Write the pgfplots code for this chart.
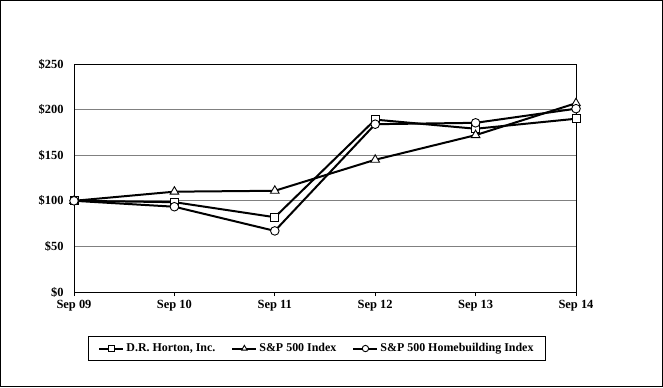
\documentclass[border=0pt]{standalone}
\usepackage{pgfplots}
\pgfplotsset{compat=1.18}
\usepackage{fontspec}
\setmainfont{Liberation Serif}
\begin{document}
\begin{tikzpicture}[x=1bp,y=1bp]
\draw[line width=1bp] (0.5,0.5) rectangle (662.5,386.5);
\begin{axis}[
  at={(74bp,95bp)}, anchor=south west,
  scale only axis, width=502bp, height=228bp,
  xmin=0, xmax=5, ymin=0, ymax=250,
  xtick={0,1,2,3,4,5},
  xticklabels={Sep 09,Sep 10,Sep 11,Sep 12,Sep 13,Sep 14},
  ytick={0,50,100,150,200,250},
  yticklabels={\$0,\$50,\$100,\$150,\$200,\$250},
  ymajorgrids, grid style={gray, line width=1bp},
  axis line style={line width=1bp, black},
  tick style={black, line width=1bp},
  xtick pos=bottom, ytick pos=left,
  major tick length=4bp,
  y tick style={draw=none},
  tick align=outside,
  ticklabel style={font=\bfseries\fontsize{12.5}{14}\selectfont},
  yticklabel style={xshift=-3bp},
  xticklabel style={yshift=-1bp},
  legend columns=3,
  legend style={at={(0.484,-0.248)}, anchor=center, draw=black, line width=1bp,
    font=\bfseries\fontsize{12}{14}\selectfont, inner xsep=10bp, inner ysep=5bp,
    /tikz/every even column/.append style={column sep=14bp}},
  legend image code/.code={
    \draw[line width=2bp] (0bp,0bp) -- (24bp,0bp);
    \draw[#1, mark size=3.2bp, line width=0.8bp, fill=white] plot coordinates {(12bp,0bp)};
  },
]
\addplot[black, line width=2bp, mark=square*, mark size=4bp,
  mark options={fill=white, line width=0.9bp}]
  coordinates {(0,100) (1,98.5) (2,82) (3,189) (4,179) (5,190)};
\addlegendentry{D.R. Horton, Inc.}
\addplot[black, line width=2bp, mark=triangle*, mark size=5bp,
  mark options={fill=white, line width=0.9bp}]
  coordinates {(0,100) (1,110) (2,111) (3,145) (4,172) (5,207)};
\addlegendentry{S\&P 500 Index}
\addplot[black, line width=2bp, mark=*, mark size=4.3bp,
  mark options={fill=white, line width=0.9bp}]
  coordinates {(0,100) (1,93.5) (2,67) (3,184) (4,185.5) (5,201)};
\addlegendentry{S\&P 500 Homebuilding Index}
\end{axis}
\end{tikzpicture}
\end{document}
